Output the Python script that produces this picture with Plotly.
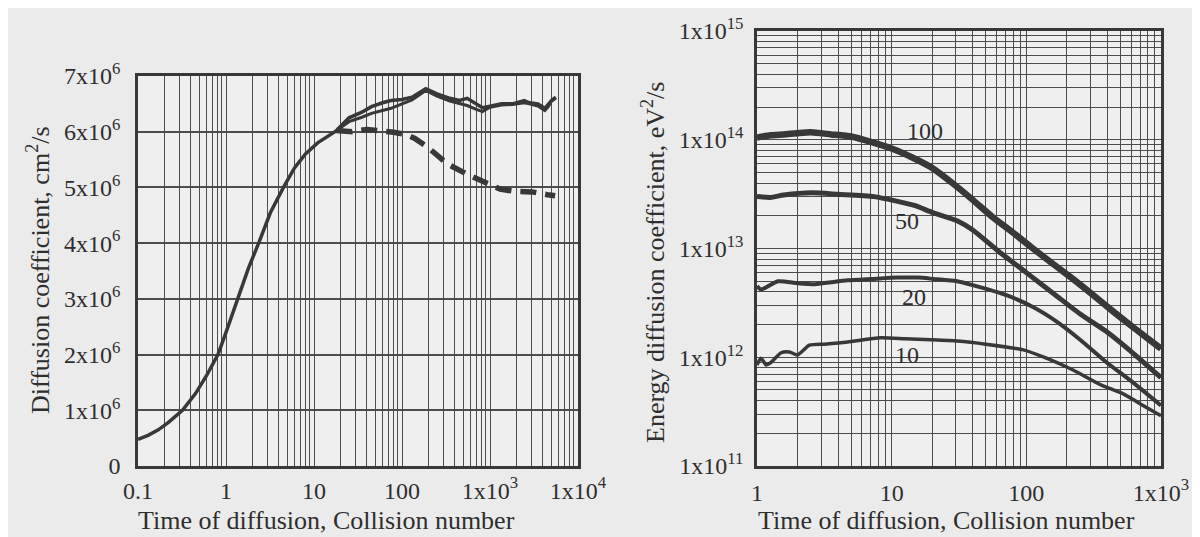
import math
import plotly.graph_objects as go

# ---------------- Left panel: diffusion coefficient (cm^2/s) ----------------
t_solid_a = [0.1, 0.13, 0.17, 0.22, 0.32, 0.45, 0.6, 0.81, 1.0, 1.35, 1.8, 2.35, 3.2, 4.5, 6, 8, 11, 18,
             25, 35, 45, 60, 75, 100, 130, 186, 250, 350, 450, 550, 700, 820, 1000, 1350, 1800, 2450,
             2800, 3500, 4200, 4600, 5000, 5600]
d_solid_a = [0.48e6, 0.55e6, 0.65e6, 0.78e6, 1.0e6, 1.3e6, 1.62e6, 2.0e6, 2.4e6, 3.0e6, 3.55e6, 4.0e6,
             4.55e6, 5.0e6, 5.35e6, 5.6e6, 5.8e6, 6.02e6,
             6.25e6, 6.35e6, 6.45e6, 6.52e6, 6.56e6, 6.58e6, 6.62e6, 6.77e6, 6.68e6, 6.6e6, 6.56e6, 6.6e6,
             6.5e6, 6.43e6, 6.46e6, 6.5e6, 6.5e6, 6.56e6, 6.52e6, 6.5e6, 6.42e6, 6.5e6, 6.56e6, 6.62e6]

t_solid_b = [18, 25, 35, 45, 60, 75, 100, 130, 186, 250, 350, 450, 550, 700, 820, 1000, 1350, 1800,
             2450, 2800, 3500, 4200, 4600, 5000, 5600]
d_solid_b = [6.02e6, 6.18e6, 6.26e6, 6.33e6, 6.38e6, 6.42e6, 6.5e6, 6.57e6, 6.74e6, 6.64e6, 6.55e6,
             6.5e6, 6.47e6, 6.4e6, 6.36e6, 6.44e6, 6.48e6, 6.49e6, 6.52e6, 6.5e6, 6.46e6, 6.38e6,
             6.45e6, 6.55e6, 6.6e6]

t_dashed = [18, 27, 40, 60, 80, 110, 140, 200, 330, 560, 950, 1300, 1900, 3000, 4500, 5500]
d_dashed = [6.02e6, 6.0e6, 6.04e6, 6.02e6, 5.99e6, 5.95e6, 5.88e6, 5.71e6, 5.42e6, 5.23e6, 5.05e6,
            4.97e6, 4.93e6, 4.92e6, 4.87e6, 4.85e6]

left_x_ticks = [0.1, 1, 10, 100, 1000, 10000]
left_x_labels = ["0.1", "1", "10", "100", "1x10<sup>3</sup>", "1x10<sup>4</sup>"]
left_y_ticks = [0, 1e6, 2e6, 3e6, 4e6, 5e6, 6e6, 7e6]
left_y_labels = ["0", "1x10<sup>6</sup>", "2x10<sup>6</sup>", "3x10<sup>6</sup>", "4x10<sup>6</sup>",
                 "5x10<sup>6</sup>", "6x10<sup>6</sup>", "7x10<sup>6</sup>"]

# ---------------- Right panel: energy diffusion coefficient (eV^2/s) ----------------
t_100 = [1, 1.26, 1.58, 2.0, 2.5, 3.55, 5.0, 7.1, 10, 14.1, 20, 28.2, 40, 56, 79, 112, 158, 224, 316,
         447, 631, 1000]
e_100 = [1.05e14, 1.10e14, 1.12e14, 1.15e14, 1.17e14, 1.12e14, 1.07e14, 9.5e13, 8.3e13, 6.9e13,
         5.5e13, 4.0e13, 2.8e13, 1.95e13, 1.41e13, 1.0e13, 7.2e12, 5.2e12, 3.7e12, 2.6e12, 1.86e12,
         1.2e12]

t_50 = [1, 1.26, 1.58, 2.57, 4.0, 7.4, 14.5, 20, 30.6, 40, 63, 100, 166, 251, 389, 631, 1000]
e_50 = [3.0e13, 2.95e13, 3.1e13, 3.25e13, 3.15e13, 3.0e13, 2.5e13, 2.15e13, 1.8e13, 1.48e13, 9.3e12,
        6.0e12, 3.7e12, 2.5e12, 1.74e12, 1.07e12, 6.5e11]

t_20 = [1, 1.07, 1.15, 1.43, 2.0, 2.7, 3.55, 4.7, 7.1, 11, 15.8, 20.4, 30.6, 40, 72, 112, 166, 251,
        389, 631, 1000]
e_20 = [4.5e12, 4.2e12, 4.35e12, 5.0e12, 4.8e12, 4.7e12, 4.9e12, 5.1e12, 5.25e12, 5.4e12, 5.4e12,
        5.25e12, 5.0e12, 4.6e12, 3.7e12, 2.9e12, 2.15e12, 1.45e12, 9.1e11, 5.75e11, 3.6e11]

t_10 = [1, 1.07, 1.17, 1.26, 1.51, 1.74, 2.0, 2.45, 3.16, 4.7, 8.3, 12.6, 19.5, 30.6, 50, 95, 141,
        224, 355, 525, 708, 1000]
e_10 = [8.5e11, 9.8e11, 8.5e11, 8.9e11, 1.10e12, 1.12e12, 1.05e12, 1.29e12, 1.32e12, 1.38e12,
        1.51e12, 1.48e12, 1.45e12, 1.41e12, 1.32e12, 1.17e12, 9.8e11, 7.6e11, 5.6e11, 4.6e11,
        3.7e11, 2.9e11]

curve_names = ["100", "50", "20", "10"]
curve_label_x = [17.8, 13, 14.7, 13]
curve_label_y = [1.2e14, 1.78e13, 3.6e12, 1.05e12]

right_x_ticks = [1, 10, 100, 1000]
right_x_labels = ["1", "10", "100", "1x10<sup>3</sup>"]
right_y_ticks = [1e11, 1e12, 1e13, 1e14, 1e15]
right_y_labels = ["1x10<sup>11</sup>", "1x10<sup>12</sup>", "1x10<sup>13</sup>", "1x10<sup>14</sup>",
                  "1x10<sup>15</sup>"]

x_title = "Time of diffusion, Collision number"
left_y_title = "Diffusion coefficient, cm<sup>2</sup>/s"
right_y_title = "Energy diffusion coefficient, eV<sup>2</sup>/s"


def log_grid(decades, labels_at, labels):
    vals, texts = [], []
    for d in decades:
        for m in range(1, 10):
            vals.append(m * d)
            texts.append("")
    for v, lab in zip(labels_at, labels):
        if v in vals:
            texts[vals.index(v)] = lab
        else:
            vals.append(v)
            texts.append(lab)
    return vals, texts


LINE = "#383838"
GRID = "#4c4c4c"
TXT = "#2e2e2e"
FONT = "Liberation Serif"
W, H = 1200, 537

lx_vals, lx_text = log_grid([0.1, 1, 10, 100, 1000], left_x_ticks, left_x_labels)
rx_vals, rx_text = log_grid([1, 10, 100], right_x_ticks, right_x_labels)
ry_vals, ry_text = log_grid([1e11, 1e12, 1e13, 1e14], right_y_ticks, right_y_labels)

fig = go.Figure()

fig.add_trace(go.Scatter(x=t_solid_a, y=d_solid_a, mode="lines", xaxis="x", yaxis="y",
                         line=dict(color=LINE, width=3.5), showlegend=False))
fig.add_trace(go.Scatter(x=t_solid_b, y=d_solid_b, mode="lines", xaxis="x", yaxis="y",
                         line=dict(color=LINE, width=3), showlegend=False))
fig.add_trace(go.Scatter(x=t_dashed, y=d_dashed, mode="lines", xaxis="x", yaxis="y",
                         line=dict(color=LINE, width=5.5, dash="16px,9px"), showlegend=False))

for t, e, w in [(t_100, e_100, 6.5), (t_50, e_50, 5), (t_20, e_20, 4), (t_10, e_10, 3.5)]:
    fig.add_trace(go.Scatter(x=t, y=e, mode="lines", xaxis="x2", yaxis="y2",
                             line=dict(color=LINE, width=w, shape="spline", smoothing=0.6),
                             showlegend=False))


def px(p):
    return p / W


def py(p):
    return 1 - p / H


axis_common = dict(showgrid=True, gridcolor=GRID, gridwidth=1.3, showline=True, mirror=True,
                   linecolor=LINE, linewidth=2.5, ticks="", zeroline=False, automargin=False,
                   tickfont=dict(family=FONT, size=24, color=TXT), tickmode="array")

fig.update_layout(
    width=W, height=H,
    margin=dict(l=0, r=0, t=0, b=0),
    paper_bgcolor="#ebebeb", plot_bgcolor="#efefef",
    font=dict(family=FONT, color=TXT),
    xaxis=dict(axis_common, type="log", range=[-1, 4], domain=[px(130), px(570)], anchor="y",
               tickvals=lx_vals, ticktext=lx_text, ticklabelstandoff=1),
    yaxis=dict(axis_common, range=[0, 7e6], domain=[py(458), py(68)], anchor="x",
               tickvals=left_y_ticks, ticktext=left_y_labels, gridwidth=2, ticklabelstandoff=10),
    xaxis2=dict(axis_common, type="log", range=[0, 3], domain=[px(749), px(1153)], anchor="y2",
                tickvals=rx_vals, ticktext=rx_text, ticklabelstandoff=3),
    yaxis2=dict(axis_common, type="log", range=[11, 15], domain=[py(458), py(23)], anchor="x2",
                tickvals=ry_vals, ticktext=ry_text, ticklabelstandoff=6),
)

annotations = [
    dict(text=x_title, x=px(318), y=py(512), xref="paper", yref="paper", showarrow=False,
         xanchor="center", yanchor="middle", font=dict(family=FONT, size=26, color=TXT)),
    dict(text=x_title, x=px(938), y=py(512), xref="paper", yref="paper", showarrow=False,
         xanchor="center", yanchor="middle", font=dict(family=FONT, size=26, color=TXT)),
    dict(text=left_y_title, x=px(30), y=py(262), xref="paper", yref="paper", showarrow=False,
         xanchor="center", yanchor="middle", textangle=-90,
         font=dict(family=FONT, size=26, color=TXT)),
    dict(text=right_y_title, x=px(645), y=py(255), xref="paper", yref="paper", showarrow=False,
         xanchor="center", yanchor="middle", textangle=-90,
         font=dict(family=FONT, size=26, color=TXT)),
]
for name, lx, ly in zip(curve_names, curve_label_x, curve_label_y):
    annotations.append(dict(text=name, x=math.log10(lx), y=math.log10(ly), xref="x2", yref="y2",
                            showarrow=False, xanchor="center", yanchor="middle",
                            font=dict(family=FONT, size=24, color=TXT)))
fig.update_layout(annotations=annotations)

fig.write_html("out.html")
